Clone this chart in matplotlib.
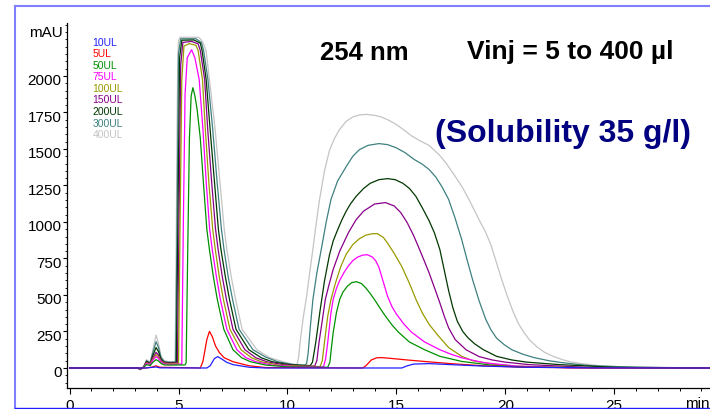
import matplotlib.pyplot as plt
from matplotlib.ticker import MultipleLocator, FixedLocator
from matplotlib.lines import Line2D
from matplotlib.transforms import ScaledTranslation

plt.rcParams['font.family'] = ['Liberation Sans', 'DejaVu Sans']

# Injection volumes, as listed in the chart's legend
labels = ['10UL', '5UL', '50UL', '75UL', '100UL', '150UL', '200UL', '300UL', '400UL']
colors = ['#2020ff', '#ff0000', '#009000', '#ff00ff', '#9a9a00',
          '#880088', '#003800', '#3f8080', '#c4c4c4']

# Traces: (time in min, signal in mAU)
trace_10ul = [(0, 0), (3.5, 0), (3.97, 7), (4.15, 1), (6.3, 0), (6.45, 15), (6.65, 65), (6.8, 78),
              (7.0, 60), (7.2, 40), (7.5, 23), (8.25, 5), (9, 0), (15.25, 0), (15.5, 15), (15.8, 27),
              (16.5, 30), (17.5, 23), (19, 13), (21, 5), (24, 1), (29.5, 0)]

trace_5ul = [(0, 0), (3.5, 0), (3.8, 7), (3.97, 15), (4.15, 5), (6.0, 0), (6.12, 45), (6.3, 195),
             (6.42, 251), (6.55, 215), (6.7, 150), (6.88, 105), (7.1, 70), (7.5, 43), (8.25, 15),
             (9.0, 3), (13.45, 0), (13.6, 15), (13.85, 55), (14.1, 70), (14.36, 71), (14.8, 65),
             (15.5, 55), (16.5, 42), (17.5, 30), (19, 15), (21, 5), (24, 1), (29.5, 0)]

trace_50ul = [(0, 0), (3.1, 0), (3.25, -4), (3.4, 4), (3.53, 23), (3.7, 17), (3.82, 39), (3.97, 57),
              (4.07, 49), (4.2, 31), (4.35, 21), (4.6, 20), (5.3, 21), (5.35, 35), (5.42, 775),
              (5.5, 1575), (5.58, 1865), (5.66, 1920), (5.75, 1865), (5.85, 1775), (6.0, 1575),
              (6.14, 1275), (6.3, 950), (6.42, 810), (6.6, 625), (6.78, 470), (7.08, 265), (7.5, 125),
              (7.9, 70), (8.3, 43), (9.0, 20), (10.0, 8), (11.85, 5), (11.95, 40), (12.02, 140),
              (12.1, 242), (12.25, 380), (12.4, 470), (12.55, 520), (12.75, 560), (12.95, 585),
              (13.17, 591), (13.4, 578), (13.6, 548), (13.8, 510), (14.0, 468), (14.25, 410),
              (14.5, 355), (14.8, 295), (15.1, 245), (15.6, 178), (16.3, 125), (17.0, 80),
              (18.0, 45), (19.5, 17), (21, 5), (29.5, 0)]

trace_75ul = [(0, 0), (3.1, 0), (3.25, -5), (3.4, 5), (3.53, 30), (3.7, 23), (3.82, 53), (3.97, 78),
              (4.07, 67), (4.2, 41), (4.35, 27), (4.6, 25), (5.15, 27), (5.22, 975), (5.3, 1875),
              (5.4, 2125), (5.6, 2180), (5.75, 2125), (5.95, 1975), (6.12, 1635), (6.27, 1275),
              (6.43, 950), (6.55, 810), (6.74, 625), (6.92, 470), (7.22, 265), (7.68, 125), (8.1, 70),
              (8.55, 43), (9.3, 20), (10.3, 10), (11.65, 7), (11.75, 60), (11.85, 175), (12.0, 380),
              (12.1, 470), (12.25, 545), (12.4, 600), (12.6, 655), (12.8, 700), (13.0, 735),
              (13.2, 758), (13.45, 773), (13.67, 776), (13.9, 760), (14.05, 735), (14.2, 690),
              (14.4, 590), (14.6, 490), (14.8, 420), (15.0, 370), (15.35, 300), (15.7, 245),
              (16.3, 178), (17.0, 125), (17.5, 95), (18.0, 70), (19.0, 37), (20.5, 13), (23, 1),
              (29.5, 0)]

trace_100ul = [(0, 0), (3.1, 0), (3.25, -6), (3.4, 5), (3.53, 35), (3.7, 27), (3.82, 60), (3.97, 91),
               (4.07, 77), (4.2, 47), (4.35, 32), (4.6, 30), (5.0, 32), (5.07, 975), (5.15, 1975),
               (5.25, 2205), (5.5, 2222), (5.8, 2210), (5.9, 2175), (6.1, 1975), (6.23, 1635),
               (6.39, 1275), (6.57, 950), (6.69, 810), (6.87, 625), (7.06, 470), (7.36, 265),
               (7.87, 125), (8.35, 70), (8.8, 43), (9.6, 20), (10.5, 13), (11.5, 10), (11.6, 50),
               (11.7, 175), (11.85, 355), (12.0, 470), (12.2, 580), (12.45, 695), (12.7, 780),
               (13.0, 845), (13.3, 885), (13.6, 910), (13.9, 920), (14.13, 920), (14.4, 895),
               (14.6, 855), (14.9, 785), (15.25, 695), (15.6, 580), (15.9, 470), (16.2, 375),
               (16.5, 300), (16.9, 225), (17.4, 140), (18.0, 80), (18.5, 50), (19.5, 25),
               (20.5, 13), (23, 2), (29.5, 0)]

trace_150ul = [(0, 0), (3.1, 0), (3.25, -7), (3.4, 6), (3.53, 40), (3.7, 30), (3.82, 70), (3.97, 107),
               (4.07, 90), (4.2, 53), (4.35, 35), (4.6, 33), (4.95, 35), (5.02, 975), (5.1, 2075),
               (5.2, 2230), (5.6, 2237), (5.9, 2220), (6.0, 2175), (6.2, 1975), (6.34, 1635),
               (6.52, 1275), (6.7, 950), (6.82, 810), (7.01, 625), (7.2, 470), (7.5, 265), (8.05, 125),
               (8.55, 70), (9.05, 43), (9.8, 23), (10.5, 15), (11.25, 13), (11.35, 50), (11.45, 175),
               (11.6, 325), (11.74, 470), (11.9, 565), (12.1, 675), (12.4, 800), (12.8, 927),
               (13.15, 1015), (13.5, 1075), (14.0, 1123), (14.5, 1133), (14.9, 1110), (15.2, 1065),
               (15.5, 995), (15.8, 905), (16.0, 835), (16.25, 745), (16.5, 653), (16.75, 550),
               (17.0, 445), (17.2, 355), (17.4, 275), (17.7, 195), (18.2, 125), (18.8, 78),
               (19.4, 55), (20, 40), (21.1, 23), (24, 3), (29.5, 0)]

trace_200ul = [(0, 0), (3.1, 0), (3.25, -8), (3.4, 7), (3.53, 45), (3.7, 33), (3.82, 85), (3.97, 140),
               (4.07, 115), (4.2, 60), (4.35, 39), (4.6, 36), (4.9, 38), (4.97, 975), (5.05, 2125),
               (5.15, 2245), (5.7, 2247), (6.0, 2225), (6.08, 2175), (6.27, 1975), (6.45, 1635),
               (6.65, 1275), (6.83, 950), (6.95, 810), (7.15, 625), (7.34, 470), (7.64, 265),
               (8.23, 125), (8.8, 70), (9.3, 43), (10.0, 25), (10.6, 18), (11.05, 17), (11.15, 40),
               (11.3, 175), (11.5, 395), (11.7, 595), (11.93, 775), (12.1, 870), (12.3, 945),
               (12.5, 1015), (12.7, 1075), (12.9, 1125), (13.15, 1175), (13.5, 1230), (13.8, 1265),
               (14.2, 1290), (14.6, 1297), (14.95, 1290), (15.3, 1265), (15.6, 1230), (15.9, 1175),
               (16.2, 1095), (16.5, 1010), (16.75, 925), (17.0, 810), (17.2, 670), (17.4, 530),
               (17.6, 410), (17.8, 320), (18.05, 250), (18.3, 205), (18.6, 165), (19.0, 125),
               (19.6, 80), (20.3, 55), (21, 40), (22.5, 23), (25, 5), (29.5, 0)]

trace_300ul = [(0, 0), (3.1, 0), (3.25, -10), (3.4, 8), (3.53, 50), (3.7, 35), (3.82, 105), (3.97, 180),
               (4.07, 145), (4.2, 70), (4.35, 43), (4.6, 39), (4.87, 41), (4.93, 975), (5.0, 2155),
               (5.1, 2255), (5.8, 2255), (6.05, 2230), (6.15, 2175), (6.35, 1975), (6.57, 1635),
               (6.77, 1275), (6.97, 950), (7.09, 810), (7.28, 625), (7.48, 470), (7.78, 265),
               (8.42, 125), (9.0, 75), (9.55, 43), (10.2, 25), (10.8, 20), (10.88, 30), (10.95, 100),
               (11.05, 280), (11.17, 470), (11.35, 650), (11.55, 810), (11.78, 1000), (12.0, 1155),
               (12.3, 1280), (12.7, 1380), (13.0, 1450), (13.3, 1495), (13.7, 1525), (14.2, 1537),
               (14.6, 1530), (15.0, 1508), (15.4, 1475), (15.8, 1430), (16.2, 1395), (16.5, 1360),
               (16.8, 1310), (17.1, 1240), (17.4, 1155), (17.7, 1025), (18.0, 880), (18.25, 740),
               (18.5, 605), (18.8, 460), (19.1, 335), (19.35, 260), (19.6, 205), (19.95, 160),
               (20.3, 125), (20.8, 95), (21.3, 72), (22.0, 50), (22.6, 37), (23.3, 25), (24, 15),
               (26, 5), (29.5, 0)]

trace_400ul = [(0, 0), (3.1, 0), (3.25, -13), (3.4, 10), (3.53, 57), (3.7, 40), (3.82, 125), (3.97, 225),
               (4.07, 175), (4.2, 80), (4.35, 50), (4.6, 43), (4.84, 45), (4.87, 400), (4.9, 975),
               (4.94, 1750), (4.97, 2150), (5.0, 2240), (5.07, 2265), (5.9, 2265), (6.0, 2255),
               (6.1, 2235), (6.2, 2200), (6.27, 2165), (6.42, 1975), (6.68, 1635), (6.9, 1275),
               (7.1, 950), (7.22, 810), (7.42, 625), (7.62, 470), (7.92, 265), (8.6, 125), (9.2, 70),
               (9.8, 43), (10.35, 22), (10.45, 28), (10.52, 80), (10.6, 200), (10.72, 340),
               (10.87, 480), (11.02, 650), (11.17, 815), (11.32, 990), (11.47, 1150), (11.7, 1350),
               (11.93, 1490), (12.15, 1570), (12.4, 1635), (12.7, 1690), (13.0, 1720), (13.3, 1733),
               (13.6, 1737), (13.95, 1732), (14.3, 1720), (14.65, 1697), (15.0, 1668), (15.35, 1630),
               (15.7, 1590), (16.1, 1555), (16.5, 1525), (16.97, 1460), (17.3, 1400), (17.6, 1335),
               (18.0, 1245), (18.35, 1150), (18.8, 1015), (19.1, 930), (19.35, 840), (19.6, 720),
               (19.85, 600), (20.1, 490), (20.35, 390), (20.6, 305), (20.85, 245), (21.1, 195),
               (21.45, 145), (21.8, 108), (22.2, 80), (22.6, 58), (23.0, 42), (23.5, 30), (24.3, 16),
               (25.2, 9), (26, 5), (29.5, 0)]

traces = [trace_10ul, trace_5ul, trace_50ul, trace_75ul, trace_100ul,
          trace_150ul, trace_200ul, trace_300ul, trace_400ul]

W, H = 710, 409
fig = plt.figure(figsize=(W / 100, H / 100), dpi=100)
ax = fig.add_axes([67 / W, 21 / H, (W - 67) / W, (388 - 23) / H])

# largest injection drawn first so the small ones stay visible on the baseline
for tr, c in reversed(list(zip(traces, colors))):
    t, v = zip(*tr)
    ax.plot(t, v, color=c, lw=0.9)

ax.set_xlim(-0.12, 29.4)
ax.set_ylim(-137, 2363)

for s in ['top', 'right']:
    ax.spines[s].set_visible(False)
ax.spines['left'].set_linewidth(0.9)
ax.spines['bottom'].set_linewidth(0.9)

ax.xaxis.set_major_locator(MultipleLocator(5))
ax.xaxis.set_minor_locator(MultipleLocator(1))
ax.yaxis.set_major_locator(FixedLocator(range(0, 2001, 250)))
ax.yaxis.set_minor_locator(FixedLocator(range(-100, 2351, 50)))
ax.set_xticks(range(0, 26, 5))
ax.tick_params(axis='x', which='major', length=4, width=0.8, pad=4, labelsize=11)
ax.tick_params(axis='x', which='minor', length=2.5, width=0.7)
ax.tick_params(axis='y', which='major', length=3, width=0.8, pad=1, labelsize=11)
ax.tick_params(axis='y', which='minor', length=1.8, width=0.6)

# y labels sit a little below their ticks in the original
shift = ScaledTranslation(0, -4 / 100, fig.dpi_scale_trans)
for lab in ax.get_yticklabels():
    lab.set_transform(lab.get_transform() + shift)

fig.text(63 / W, 1 - 33 / H, 'mAU', fontsize=11, ha='right', va='center')
fig.text(685 / W, 1 - 397 / H, 'min', fontsize=11, ha='left', va='top')

fig.text(320 / W, 1 - 59.5 / H, '254 nm', fontsize=18.5, fontweight='bold', ha='left', va='baseline')
fig.text(467 / W, 1 - 59.5 / H, 'Vinj = 5 to 400 µl', fontsize=19, fontweight='bold',
         ha='left', va='baseline')
fig.text(435 / W, 1 - 142 / H, '(Solubility 35 g/l)', fontsize=23, fontweight='bold',
         color='#000080', ha='left', va='baseline')

# legend: coloured labels only
for i, (lab, c) in enumerate(zip(labels, colors)):
    fig.text(92.5 / W, 1 - (45.5 + 11.6 * i) / H, lab, fontsize=7.5, color=c,
             ha='left', va='baseline')

# outer frame of the export
fig.add_artist(Line2D([15 / W, 15 / W], [0, 1 - 6 / H], color='#8080ff', lw=1.5))
fig.add_artist(Line2D([15 / W, 1], [1 - 6 / H, 1 - 6 / H], color='#8080ff', lw=1.5))
fig.add_artist(Line2D([15 / W, 1], [0.6 / H, 0.6 / H], color='#2020ff', lw=1.0))

fig.savefig('out.png', dpi=100)
